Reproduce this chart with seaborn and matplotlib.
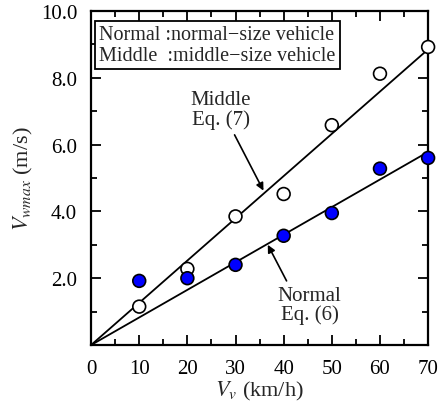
import matplotlib
matplotlib.use("Agg")
import matplotlib.pyplot as plt
import pandas as pd
import seaborn as sns
from matplotlib.ticker import MultipleLocator, FixedLocator

# measured data
speed = [10, 20, 30, 40, 50, 60, 70]
normal_vw = [1.92, 2.0, 2.4, 3.27, 3.95, 5.28, 5.6]
middle_vw = [1.15, 2.28, 3.85, 4.52, 6.58, 8.12, 8.92]

# fitted lines (Eq. 6 and Eq. 7)
fit_x = [0, 70]
normal_fit = [0, 5.78]
middle_fit = [0, 8.85]

sns.set_theme(style="ticks")
plt.rcParams["font.family"] = ["Liberation Serif", "DejaVu Serif"]
plt.rcParams["mathtext.fontset"] = "stix"

fig = plt.figure(figsize=(4.4, 4.1), dpi=100)
ax = fig.add_axes([0.207, 0.156, 0.766, 0.815])

sns.lineplot(x=fit_x, y=middle_fit, color="black", linewidth=1.3, ax=ax)
sns.lineplot(x=fit_x, y=normal_fit, color="black", linewidth=1.3, ax=ax)

pts = pd.DataFrame({
    "speed": speed * 2,
    "vw": middle_vw + normal_vw,
    "type": ["Middle"] * 7 + ["Normal"] * 7,
})
sns.scatterplot(data=pts, x="speed", y="vw", hue="type",
                palette={"Middle": "white", "Normal": "#0000ff"},
                edgecolor="black", linewidth=1.2, s=85, legend=False,
                ax=ax, zorder=3, clip_on=False)

ax.set_xlim(0, 70)
ax.set_ylim(0, 10)
ax.xaxis.set_major_locator(MultipleLocator(10))
ax.xaxis.set_minor_locator(MultipleLocator(5))
ax.yaxis.set_major_locator(FixedLocator([2, 4, 6, 8, 10]))
ax.yaxis.set_minor_locator(MultipleLocator(1))
ax.set_yticklabels(["2.0", "4.0", "6.0", "8.0", "10.0"])
ax.tick_params(which="both", direction="in", top=True, right=True,
               labelsize=15, width=1.3, colors="black")
ax.tick_params(which="major", length=7, pad=10)
ax.tick_params(which="minor", length=4)
for sp in ax.spines.values():
    sp.set_linewidth(1.6)
    sp.set_color("black")

ax.set_xlabel(r"$V_v$ (km/h)", fontsize=16, labelpad=1)
ax.set_ylabel(r"$V_{wmax}$ (m/s)", fontsize=16, labelpad=4)

ax.text(0.024, 0.957,
        "Normal :normal\u2212size vehicle\nMiddle  :middle\u2212size vehicle",
        transform=ax.transAxes, ha="left", va="top", fontsize=14.5,
        linespacing=1.1,
        bbox=dict(boxstyle="square,pad=0.2", fc="white", ec="black", lw=1.3))

# equation labels and arrows
ax.text(26.9, 7.04, "Middle\nEq. (7)", ha="center", va="center",
        multialignment="center", fontsize=15, linespacing=1.0)
ax.text(45.4, 1.2, "Normal\nEq. (6)", ha="center", va="center",
        multialignment="center", fontsize=15, linespacing=1.0)
arrow = dict(arrowstyle="-|>", color="black", lw=1.2, mutation_scale=11,
             shrinkA=0, shrinkB=0)
ax.annotate("", xy=(35.8, 4.62), xytext=(29.8, 6.29), arrowprops=arrow)
ax.annotate("", xy=(36.7, 3.0), xytext=(40.6, 1.92), arrowprops=arrow)

fig.savefig("out.png", dpi=100)
